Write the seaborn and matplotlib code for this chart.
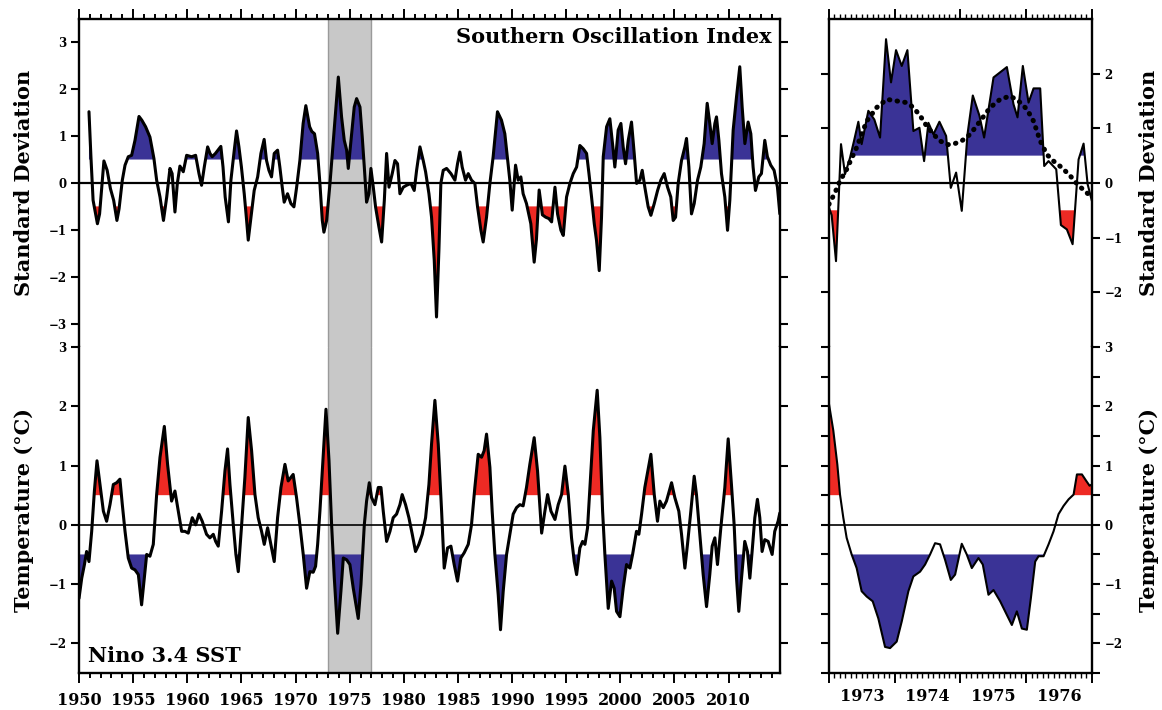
import numpy as np
import pandas as pd
import seaborn as sns
import matplotlib.pyplot as plt
from matplotlib.ticker import MultipleLocator

# ---------------- data ----------------
soi_year = [1950.92, 1951.1, 1951.3, 1951.7, 1951.9, 1952.3, 1952.6, 1952.9, 1953.2, 1953.5, 1953.7,
            1954.0, 1954.25, 1954.55, 1954.86, 1955.17, 1955.54, 1955.8, 1956.15, 1956.55, 1956.92,
            1957.17, 1957.48, 1957.8, 1958.1, 1958.4, 1958.6, 1958.86, 1959.08, 1959.32, 1959.63,
            1959.94, 1960.4, 1960.77, 1961.08, 1961.32, 1961.57, 1961.88, 1962.1, 1962.3, 1962.6,
            1963.1, 1963.3, 1963.5, 1963.8, 1964.03, 1964.34, 1964.55, 1964.77, 1965.0, 1965.26,
            1965.48, 1965.63, 1965.88, 1966.18, 1966.5, 1966.8, 1967.1, 1967.32, 1967.54, 1967.78,
            1968.03, 1968.34, 1968.55, 1968.77, 1968.95, 1969.26, 1969.57, 1969.85, 1970.1, 1970.4,
            1970.7, 1970.95, 1971.3, 1971.5, 1971.75, 1972.04, 1972.25, 1972.47, 1972.62, 1972.87,
            1973.18, 1973.49, 1973.95, 1974.25, 1974.5, 1974.72, 1974.87, 1975.12, 1975.42, 1975.64,
            1975.95, 1976.16, 1976.35, 1976.56, 1976.78, 1976.96, 1977.18, 1977.39, 1977.7, 1977.95,
            1978.2, 1978.41, 1978.63, 1978.93, 1979.18, 1979.42, 1979.64, 1979.95, 1980.25, 1980.65,
            1980.96, 1981.18, 1981.49, 1981.79, 1982.01, 1982.32, 1982.56, 1982.81, 1983.02, 1983.24,
            1983.42, 1983.64, 1983.95, 1984.35, 1984.72, 1984.96, 1985.18, 1985.39, 1985.7, 1985.95,
            1986.25, 1986.56, 1986.81, 1987.12, 1987.33, 1987.64, 1987.95, 1988.25, 1988.65, 1989.02,
            1989.33, 1989.58, 1989.79, 1990.01, 1990.32, 1990.56, 1990.81, 1991.02, 1991.33, 1991.73,
            1992.04, 1992.25, 1992.5, 1992.8, 1993.1, 1993.4, 1993.65, 1993.96, 1994.2, 1994.51,
            1994.73, 1995.03, 1995.34, 1995.65, 1995.96, 1996.26, 1996.57, 1996.88, 1997.1, 1997.34,
            1997.59, 1997.8, 1998.05, 1998.26, 1998.42, 1998.73, 1999.03, 1999.34, 1999.49, 1999.8,
            2000.05, 2000.26, 2000.48, 2000.73, 2001.03, 2001.28, 2001.5, 2001.8, 2002.02, 2002.26,
            2002.57, 2002.82, 2003.13, 2003.44, 2003.74, 2004.05, 2004.36, 2004.66, 2004.88, 2005.1,
            2005.34, 2005.65, 2005.96, 2006.11, 2006.33, 2006.57, 2006.82, 2007.13, 2007.43, 2007.74,
            2008.02, 2008.26, 2008.48, 2008.73, 2008.88, 2009.1, 2009.34, 2009.65, 2009.9, 2010.11,
            2010.42, 2010.73, 2011.03, 2011.25, 2011.5, 2011.8, 2012.05, 2012.26, 2012.48, 2012.79,
            2013.03, 2013.34, 2013.58, 2013.89, 2014.2, 2014.51, 2014.73]
soi_value = [1.52, 0.56, -0.37, -0.87, -0.66, 0.47, 0.27, -0.12, -0.37, -0.8, -0.55,
             0.06, 0.38, 0.56, 0.59, 0.91, 1.42, 1.34, 1.2, 0.98, 0.52,
             0.06, -0.3, -0.8, -0.3, 0.31, 0.2, -0.62, -0.01, 0.36, 0.24,
             0.59, 0.56, 0.59, 0.2, -0.05, 0.34, 0.77, 0.63, 0.56, 0.63,
             0.78, 0.34, -0.3, -0.83, 0.06, 0.7, 1.11, 0.77, 0.34, -0.23,
             -0.8, -1.22, -0.73, -0.16, 0.13, 0.63, 0.93, 0.48, 0.27, 0.13,
             0.63, 0.7, 0.34, -0.09, -0.41, -0.23, -0.44, -0.51, -0.09, 0.48,
             1.27, 1.65, 1.2, 1.1, 1.05, 0.63, -0.01, -0.8, -1.05, -0.8,
             -0.01, 0.91, 2.26, 1.41, 0.91, 0.7, 0.31, 0.91, 1.62, 1.8,
             1.62, 0.98, 0.34, -0.41, -0.23, 0.31, -0.09, -0.51, -0.94, -1.26,
             -0.37, 0.63, -0.09, 0.2, 0.48, 0.41, -0.23, -0.09, -0.05, -0.01,
             -0.16, 0.27, 0.77, 0.48, 0.24, -0.23, -0.73, -1.65, -2.86, -1.44,
             -0.01, 0.27, 0.31, 0.2, 0.06, 0.41, 0.66, 0.34, 0.06, 0.2,
             0.06, -0.01, -0.51, -1.01, -1.26, -0.73, -0.01, 0.56, 1.52, 1.34,
             1.05, 0.52, 0.06, -0.58, 0.38, 0.06, 0.13, -0.23, -0.44, -0.87,
             -1.69, -1.2, -0.15, -0.68, -0.73, -0.76, -0.83, -0.09, -0.66, -1.01,
             -1.12, -0.3, -0.01, 0.2, 0.34, 0.8, 0.73, 0.63, 0.2, -0.3,
             -0.87, -1.23, -1.87, -0.73, 0.56, 1.2, 1.37, 0.7, 0.34, 1.13,
             1.27, 0.77, 0.41, 0.91, 1.3, 0.63, -0.01, 0.06, 0.27, -0.09,
             -0.51, -0.69, -0.44, -0.16, 0.06, 0.2, -0.09, -0.3, -0.8, -0.73,
             -0.01, 0.48, 0.77, 0.95, 0.34, -0.66, -0.44, 0.06, 0.34, 0.84,
             1.7, 1.27, 0.84, 1.27, 1.41, 0.91, 0.2, -0.3, -1.01, -0.37,
             1.13, 1.84, 2.48, 1.62, 0.84, 1.3, 1.05, 0.34, -0.16, 0.13,
             0.2, 0.91, 0.56, 0.38, 0.27, -0.09, -0.66]

sst_year = [1950.0, 1950.25, 1950.5, 1950.7, 1950.92, 1951.17, 1951.42, 1951.66, 1951.94, 1952.25,
            1952.55, 1952.86, 1953.17, 1953.48, 1953.78, 1954.0, 1954.25, 1954.55, 1954.86, 1955.17,
            1955.48, 1955.78, 1956.03, 1956.25, 1956.55, 1956.86, 1957.17, 1957.48, 1957.88, 1958.18,
            1958.55, 1958.86, 1959.17, 1959.48, 1959.78, 1960.09, 1960.46, 1960.77, 1961.08, 1961.38,
            1961.78, 1962.09, 1962.4, 1962.62, 1962.86, 1963.17, 1963.48, 1963.72, 1963.94, 1964.25,
            1964.49, 1964.71, 1965.02, 1965.32, 1965.63, 1965.94, 1966.25, 1966.55, 1966.86, 1967.11,
            1967.42, 1967.72, 1968.03, 1968.34, 1968.65, 1969.02, 1969.32, 1969.78, 1970.09, 1970.4,
            1970.71, 1971.02, 1971.32, 1971.63, 1971.85, 1972.04, 1972.25, 1972.47, 1972.81, 1973.09,
            1973.33, 1973.58, 1973.89, 1974.19, 1974.41, 1974.72, 1975.02, 1975.33, 1975.79, 1976.04,
            1976.35, 1976.56, 1976.81, 1977.02, 1977.33, 1977.64, 1977.89, 1978.1, 1978.41, 1978.72,
            1979.02, 1979.33, 1979.64, 1979.85, 1980.16, 1980.47, 1980.78, 1981.08, 1981.39, 1981.7,
            1982.01, 1982.32, 1982.56, 1982.87, 1983.18, 1983.49, 1983.73, 1984.04, 1984.35, 1984.65,
            1984.96, 1985.27, 1985.58, 1985.95, 1986.25, 1986.56, 1986.87, 1987.18, 1987.42, 1987.64,
            1987.95, 1988.16, 1988.41, 1988.72, 1988.93, 1989.18, 1989.49, 1989.79, 1990.1, 1990.41,
            1990.72, 1991.02, 1991.33, 1991.64, 1992.04, 1992.35, 1992.56, 1992.73, 1993.03, 1993.28,
            1993.59, 1993.96, 1994.26, 1994.57, 1994.88, 1995.19, 1995.49, 1995.74, 1995.96, 1996.26,
            1996.51, 1996.73, 1996.97, 1997.19, 1997.5, 1997.86, 1998.11, 1998.36, 1998.57, 1998.88,
            1999.19, 1999.43, 1999.65, 1999.96, 2000.26, 2000.57, 2000.88, 2001.13, 2001.49, 2001.71,
            2001.96, 2002.26, 2002.82, 2003.13, 2003.43, 2003.65, 2003.96, 2004.26, 2004.73, 2005.03,
            2005.4, 2005.65, 2005.96, 2006.2, 2006.51, 2006.82, 2007.03, 2007.34, 2007.65, 2007.96,
            2008.26, 2008.48, 2008.73, 2008.97, 2009.28, 2009.65, 2009.96, 2010.26, 2010.51, 2010.73,
            2010.94, 2011.19, 2011.49, 2011.74, 2011.96, 2012.17, 2012.42, 2012.66, 2012.88, 2013.09,
            2013.34, 2013.65, 2014.02, 2014.26, 2014.57, 2014.73]
sst_value = [-1.24, -0.9, -0.67, -0.45, -0.62, -0.11, 0.57, 1.08, 0.68, 0.23,
             0.06, 0.34, 0.68, 0.71, 0.77, 0.34, -0.11, -0.56, -0.73, -0.76,
             -0.84, -1.35, -0.9, -0.5, -0.53, -0.33, 0.51, 1.14, 1.66, 1.02,
             0.4, 0.57, 0.23, -0.11, -0.11, -0.14, 0.12, 0.0, 0.18, 0.06,
             -0.16, -0.22, -0.16, -0.28, -0.36, 0.23, 0.91, 1.28, 0.68, 0.0,
             -0.5, -0.79, 0.0, 0.8, 1.81, 1.25, 0.51, 0.12, -0.11, -0.33,
             -0.05, -0.33, -0.62, 0.12, 0.63, 1.02, 0.74, 0.85, 0.46, 0.0,
             -0.5, -1.07, -0.79, -0.8, -0.7, -0.33, 0.23, 0.91, 1.95, 1.08,
             0.0, -0.9, -1.83, -1.12, -0.56, -0.59, -0.67, -1.07, -1.58, -1.01,
             0.0, 0.4, 0.71, 0.46, 0.34, 0.63, 0.63, 0.23, -0.28, -0.11,
             0.12, 0.18, 0.34, 0.51, 0.34, 0.12, -0.16, -0.45, -0.33, -0.16,
             0.12, 0.68, 1.36, 2.1, 1.36, 0.23, -0.73, -0.39, -0.36, -0.67,
             -0.95, -0.56, -0.47, -0.33, 0.0, 0.63, 1.19, 1.14, 1.25, 1.53,
             0.97, 0.23, -0.5, -1.18, -1.77, -1.12, -0.5, -0.16, 0.18, 0.29,
             0.34, 0.32, 0.63, 1.02, 1.47, 0.91, 0.34, -0.14, 0.23, 0.51,
             0.23, 0.09, 0.34, 0.51, 0.99, 0.51, -0.22, -0.62, -0.84, -0.39,
             -0.28, -0.33, -0.05, 0.63, 1.59, 2.27, 1.47, 0.23, -0.5, -1.41,
             -0.95, -1.07, -1.46, -1.55, -1.07, -0.67, -0.73, -0.5, -0.11, -0.16,
             0.18, 0.63, 1.19, 0.51, 0.06, 0.4, 0.29, 0.4, 0.71, 0.46,
             0.23, -0.16, -0.73, -0.33, 0.23, 0.82, 0.51, -0.16, -0.84, -1.38,
             -0.84, -0.36, -0.22, -0.67, -0.05, 0.63, 1.45, 0.68, 0.0, -0.9,
             -1.46, -0.9, -0.28, -0.45, -0.9, -0.45, 0.12, 0.43, 0.12, -0.45,
             -0.25, -0.28, -0.5, -0.11, 0.06, 0.2]

# zoom panel (1973-1976)
zsoi_year = [1973.0, 1973.041, 1973.107, 1973.142, 1973.183, 1973.244, 1973.32, 1973.381, 1973.447,
             1973.497, 1973.599, 1973.69, 1973.777, 1973.868, 1973.944, 1974.02, 1974.107, 1974.193,
             1974.284, 1974.376, 1974.447, 1974.513, 1974.589, 1974.68, 1974.782, 1974.853, 1974.934,
             1975.02, 1975.107, 1975.188, 1975.289, 1975.36, 1975.503, 1975.706, 1975.807, 1975.868,
             1975.949, 1976.036, 1976.112, 1976.213, 1976.274, 1976.34, 1976.457, 1976.528, 1976.619,
             1976.706, 1976.797, 1976.873, 1976.934, 1977.0]
zsoi_value = [-0.45, -0.59, -1.43, -0.45, 0.71, 0.16, 0.46, 0.77, 1.12,
              0.71, 1.32, 1.16, 0.83, 2.63, 1.84, 2.43, 2.14, 2.43,
              0.95, 1.01, 0.40, 1.10, 0.89, 1.12, 0.86, -0.09, 0.19,
              -0.51, 0.89, 1.60, 1.23, 0.83, 1.93, 2.12, 1.44, 1.20,
              2.14, 1.47, 1.73, 1.73, 0.31, 0.40, 0.25, -0.77, -0.85,
              -1.12, 0.43, 0.72, -0.02, -0.33]
zsoi_smooth_year = [1973.0, 1973.091, 1973.168, 1973.269, 1973.421, 1973.574, 1973.726, 1973.878,
                    1974.03, 1974.183, 1974.284, 1974.386, 1974.487, 1974.589, 1974.69, 1974.792,
                    1974.893, 1975.02, 1975.147, 1975.299, 1975.452, 1975.604, 1975.756, 1975.883,
                    1976.01, 1976.112, 1976.213, 1976.315, 1976.416, 1976.543, 1976.67, 1976.797,
                    1976.898, 1977.0]
zsoi_smooth_value = [-0.39, -0.18, 0.04, 0.25, 0.65, 1.13, 1.38, 1.53,
                     1.50, 1.47, 1.38, 1.23, 1.04, 0.89, 0.77, 0.70,
                     0.71, 0.77, 0.89, 1.13, 1.38, 1.53, 1.59, 1.50,
                     1.35, 1.13, 0.77, 0.52, 0.40, 0.28, 0.13, -0.05,
                     -0.15, -0.27]
zsst_year = [1973.0, 1973.066, 1973.127, 1973.168, 1973.218, 1973.269, 1973.345, 1973.421, 1973.497,
             1973.574, 1973.665, 1973.751, 1973.853, 1973.929, 1974.03, 1974.107, 1974.208, 1974.284,
             1974.386, 1974.462, 1974.538, 1974.614, 1974.69, 1974.766, 1974.853, 1974.919, 1975.02,
             1975.096, 1975.173, 1975.274, 1975.34, 1975.426, 1975.503, 1975.604, 1975.706, 1975.782,
             1975.858, 1975.934, 1976.01, 1976.071, 1976.137, 1976.188, 1976.264, 1976.34, 1976.416,
             1976.492, 1976.569, 1976.645, 1976.721, 1976.772, 1976.848, 1976.914, 1976.964, 1977.0]
zsst_value = [2.04, 1.59, 1.02, 0.51, 0.12, -0.22, -0.50, -0.73, -1.12,
              -1.21, -1.29, -1.58, -2.06, -2.08, -1.97, -1.63, -1.12, -0.87,
              -0.79, -0.67, -0.50, -0.31, -0.33, -0.59, -0.93, -0.84, -0.32,
              -0.50, -0.73, -0.56, -0.67, -1.18, -1.10, -1.29, -1.52, -1.69,
              -1.46, -1.75, -1.77, -1.24, -0.62, -0.53, -0.53, -0.33, -0.11,
              0.18, 0.32, 0.43, 0.51, 0.85, 0.85, 0.74, 0.66, 0.68]

left_year_ticks = [1950, 1955, 1960, 1965, 1970, 1975, 1980, 1985, 1990, 1995, 2000, 2005, 2010]
zoom_years = [1973, 1974, 1975, 1976]
shade_span = (1973.0, 1977.0)

BLUE = '#3a3396'
RED = '#ee2a24'

# ---------------- style ----------------
sns.set_style("ticks")
plt.rcParams['font.family'] = ['DejaVu Serif']
plt.rcParams['font.weight'] = 'bold'
plt.rcParams['axes.linewidth'] = 1.7
for key in ('text.color', 'axes.labelcolor', 'xtick.color', 'ytick.color', 'axes.edgecolor'):
    plt.rcParams[key] = 'black'

fig = plt.figure(figsize=(11.62, 7.10), dpi=100)
axL1 = fig.add_axes([0.0680, 0.5113, 0.6033, 0.4620])
axL2 = fig.add_axes([0.0680, 0.0521, 0.6033, 0.4592])
axR1 = fig.add_axes([0.7134, 0.5113, 0.2263, 0.4620])
axR2 = fig.add_axes([0.7134, 0.0521, 0.2263, 0.4592])


def draw(ax, t, y, up_color, down_color, lw, zlw):
    t = np.asarray(t, float)
    y = np.asarray(y, float)
    ax.fill_between(t, 0.5, y, where=y >= 0.5, interpolate=True, color=up_color, lw=0, zorder=2)
    ax.fill_between(t, -0.5, y, where=y <= -0.5, interpolate=True, color=down_color, lw=0, zorder=2)
    ax.axhline(0, color='black', lw=zlw, zorder=3)
    sns.lineplot(x=t, y=y, ax=ax, color='black', lw=lw, zorder=4, sort=False)


for ax in (axL1, axL2):
    ax.axvspan(*shade_span, facecolor='#c8c8c8', edgecolor='none', lw=0, zorder=1)
    for xe in shade_span:
        ax.axvline(xe, color='#9a9a9a', lw=1.0, zorder=1)

draw(axL1, soi_year, soi_value, BLUE, RED, 2.2, 1.6)
draw(axL2, sst_year, sst_value, RED, BLUE, 2.2, 1.2)
draw(axR1, zsoi_year, zsoi_value, BLUE, RED, 1.5, 1.6)
sns.lineplot(x=zsoi_smooth_year, y=zsoi_smooth_value, ax=axR1, color='black', lw=3.6,
             linestyle=(0, (0.1, 1.45)), dash_capstyle='round', zorder=5, sort=False)
draw(axR2, zsst_year, zsst_value, RED, BLUE, 1.5, 1.2)

for ax in (axL1, axL2, axR1, axR2):
    ax.set_xlabel('')
    ax.set_ylabel('')
    for s in ax.spines.values():
        s.set_visible(True)
        s.set_linewidth(1.7)
        s.set_color('black')

# limits
axL1.set_xlim(1950, 2014.75)
axL2.set_xlim(1950, 2014.75)
axR1.set_xlim(1973, 1977)
axR2.set_xlim(1973, 1977)
axL1.set_ylim(-3.5, 3.5)
axL2.set_ylim(-2.5, 3.0)
axR1.set_ylim(-3.0, 3.0)
axR2.set_ylim(-2.5, 3.0)

axL1.spines['bottom'].set_visible(False)
axR1.spines['bottom'].set_visible(False)
axL2.spines['top'].set_visible(False)
axR2.spines['top'].set_visible(False)

# ---------------- ticks ----------------
ytfs = 8.5
xtfs = 11.5

for ax in (axL1, axL2):
    ax.set_xticks(left_year_ticks)
    ax.xaxis.set_minor_locator(MultipleLocator(1))

axL1.set_yticks([-3, -2, -1, 0, 1, 2, 3])
axL1.set_yticklabels(['\u22123', '\u22122', '\u22121', '0', '1', '2', '3'])
axL2.set_yticks([-2, -1, 0, 1, 2, 3])
axL2.set_yticklabels(['\u22122', '\u22121', '0', '1', '2', '3'])

axL1.tick_params(axis='x', which='both', top=True, bottom=False, labelbottom=False,
                 direction='out', width=1.4)
axL2.tick_params(axis='x', which='both', top=False, bottom=True, labelbottom=True,
                 direction='out', width=1.4, labelsize=xtfs, pad=7)
for ax in (axL1, axL2):
    ax.tick_params(axis='x', which='major', length=7)
    ax.tick_params(axis='x', which='minor', length=3.5)
    ax.tick_params(axis='y', which='major', left=True, right=True, labelleft=True,
                   labelright=False, direction='out', length=6, width=1.5,
                   labelsize=ytfs, pad=3)
    for lab in ax.get_xticklabels() + ax.get_yticklabels():
        lab.set_fontweight('bold')

# zoom panel ticks
for ax in (axR1, axR2):
    ax.set_xticks([1973, 1974, 1975, 1976, 1977])
    ax.xaxis.set_minor_locator(MultipleLocator(1 / 12))
    ax.set_xticklabels([])
    ax.tick_params(axis='x', which='major', length=7, width=1.4, direction='out')
    ax.tick_params(axis='x', which='minor', length=3.5, width=1.0, direction='out')

axR1.tick_params(axis='x', which='both', top=True, bottom=False)
axR2.tick_params(axis='x', which='both', top=False, bottom=True)

axR1.set_yticks([-2, -1, 0, 1, 2])
axR1.set_yticklabels(['\u22122', '\u22121', '0', '1', '2'])
axR2.set_yticks(np.arange(-2.5, 3.01, 0.5))
axR2.set_yticklabels(['' if abs(v - round(v)) > 1e-6 else
                      ('\u2212%d' % abs(round(v)) if v < 0 else '%d' % round(v))
                      for v in np.arange(-2.5, 3.01, 0.5)])
for ax in (axR1, axR2):
    ax.tick_params(axis='y', which='major', left=True, right=True, labelleft=False,
                   labelright=True, direction='out', length=6, width=1.5,
                   labelsize=ytfs, pad=3)
    for lab in ax.get_yticklabels():
        lab.set_fontweight('bold')

for yr in zoom_years:
    axR2.text(yr + 0.5, -0.045, str(yr), transform=axR2.get_xaxis_transform(),
              ha='center', va='top', fontsize=xtfs, fontweight='bold')

# ---------------- texts ----------------
labfs = 15
axL1.text(0.9886, 0.975, 'Southern Oscillation Index', transform=axL1.transAxes,
          ha='right', va='top', fontsize=labfs, fontweight='bold', zorder=6)
axL2.text(0.013, 0.02, 'Nino 3.4 SST', transform=axL2.transAxes,
          ha='left', va='bottom', fontsize=labfs, fontweight='bold', zorder=6)

axL1.set_ylabel('Standard Deviation', fontsize=labfs, fontweight='bold')
axL2.set_ylabel('Temperature (\u00b0C)', fontsize=labfs, fontweight='bold')
axL1.yaxis.set_label_coords(-0.064, 0.5)
axL2.yaxis.set_label_coords(-0.064, 0.5)

axR1.set_ylabel('Standard Deviation', fontsize=labfs, fontweight='bold', rotation=90)
axR2.set_ylabel('Temperature (\u00b0C)', fontsize=labfs, fontweight='bold', rotation=90)
for ax in (axR1, axR2):
    ax.yaxis.set_label_position('right')
    ax.yaxis.set_label_coords(1.178, 0.5)

fig.savefig('out.png', dpi=100)
